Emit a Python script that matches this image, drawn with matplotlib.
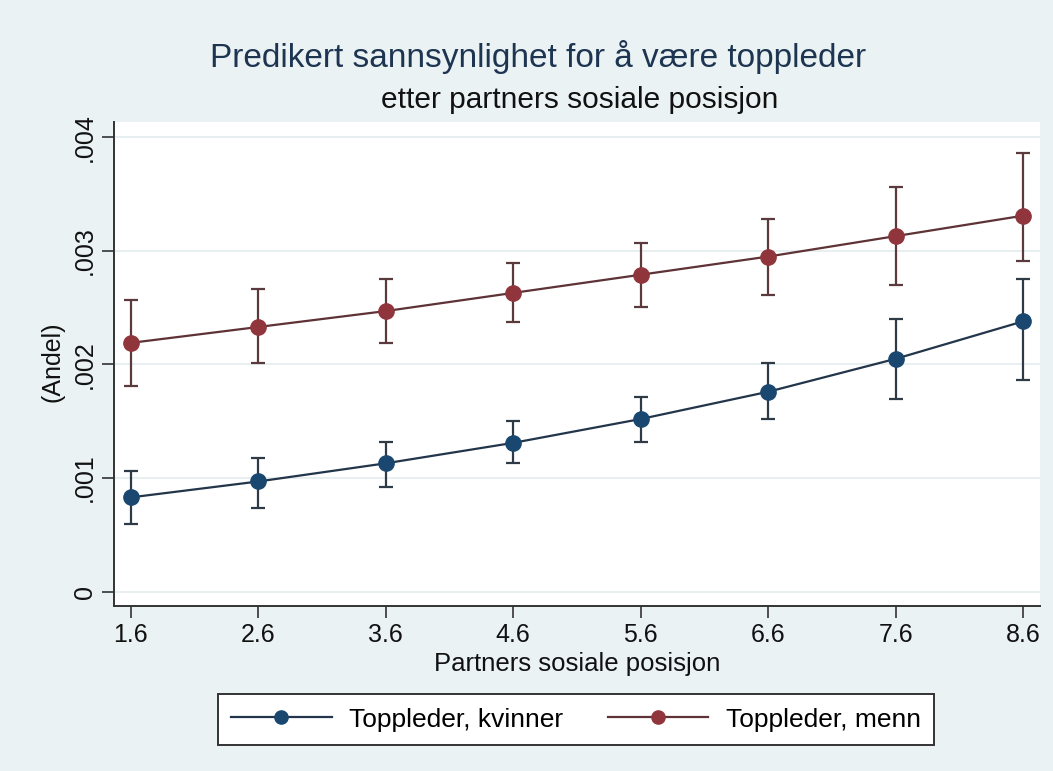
import matplotlib
matplotlib.use("Agg")
import matplotlib.pyplot as plt
from matplotlib.lines import Line2D

# ---- data ----
x_vals = [1.6, 2.6, 3.6, 4.6, 5.6, 6.6, 7.6, 8.6]
x_ticklabels = ["1.6", "2.6", "3.6", "4.6", "5.6", "6.6", "7.6", "8.6"]
women = [0.00083, 0.00097, 0.00113, 0.00131, 0.00152, 0.00176, 0.00205, 0.00238]
women_lo = [0.00060, 0.00074, 0.00092, 0.00113, 0.00132, 0.00152, 0.00170, 0.00186]
women_hi = [0.00106, 0.00118, 0.00132, 0.00150, 0.00171, 0.00201, 0.00240, 0.00275]
men = [0.00219, 0.00233, 0.00247, 0.00263, 0.00279, 0.00295, 0.00313, 0.00331]
men_lo = [0.00181, 0.00201, 0.00219, 0.00237, 0.00251, 0.00261, 0.00270, 0.00291]
men_hi = [0.00257, 0.00266, 0.00275, 0.00289, 0.00307, 0.00328, 0.00356, 0.00386]
y_ticks = [0, 0.001, 0.002, 0.003, 0.004]
y_ticklabels = ["0", ".001", ".002", ".003", ".004"]
series_labels = ["Toppleder, kvinner", "Toppleder, menn"]

title = "Predikert sannsynlighet for å være toppleder"
subtitle = "etter partners sosiale posisjon"
xlabel = "Partners sosiale posisjon"
ylabel = "(Andel)"

plt.rcParams["font.family"] = ["Liberation Sans", "DejaVu Sans"]

BG = "#EAF2F3"
NAVY = "#1A476F"
MAROON = "#90353B"
NAVY_LINE = "#22354A"
MAROON_LINE = "#5E3236"
NAVY_CI = "#2E3A46"
MAROON_CI = "#5A3A3D"

W, H = 1053, 771
fig = plt.figure(figsize=(W / 100, H / 100), dpi=100, facecolor=BG)
ax = fig.add_axes([114 / W, 1 - 606 / H, (1040 - 114) / W, (606 - 121.7) / H])
ax.set_facecolor("white")

ax.set_xlim(1.469, 8.731)
ax.set_ylim(-0.000126, 0.004137)

for y in y_ticks:
    ax.axhline(y, color="#E3ECEE", lw=1.2, zorder=0)

def plot_series(vals, lo, hi, mcol, lcol, ccol):
    yerr = [[v - l for v, l in zip(vals, lo)], [h - v for v, h in zip(vals, hi)]]
    ax.errorbar(x_vals, vals, yerr=yerr, fmt="none", ecolor=ccol, elinewidth=1.6,
                capsize=4.7, capthick=1.6, zorder=2)
    ax.plot(x_vals, vals, color=lcol, lw=1.6, zorder=3)
    ax.plot(x_vals, vals, ls="none", marker="o", ms=11, mfc=mcol, mec=mcol, zorder=4)

plot_series(women, women_lo, women_hi, NAVY, NAVY_LINE, NAVY_CI)
plot_series(men, men_lo, men_hi, MAROON, MAROON_LINE, MAROON_CI)

for s in ["top", "right"]:
    ax.spines[s].set_visible(False)
for s in ["left", "bottom"]:
    ax.spines[s].set_color("#333333")
    ax.spines[s].set_linewidth(1.4)

ax.set_xticks(x_vals)
ax.set_xticklabels(x_ticklabels)
ax.set_yticks(y_ticks)
ax.set_yticklabels(y_ticklabels, rotation=90, va="center")
ax.tick_params(axis="both", direction="out", length=8.5, width=1.2, color="#333333",
               labelsize=18, labelcolor="#111111")
ax.tick_params(axis="x", pad=4)
ax.tick_params(axis="y", pad=4)

fig.text(53 / W, 1 - 362 / H, ylabel, rotation=90, ha="center", va="center",
         fontsize=18, color="#111111")
fig.text(577 / W, 1 - 664 / H, xlabel, ha="center", va="center", fontsize=18.5, color="#111111")

fig.text(538 / W, 1 - 66.7 / H, title, ha="center", va="baseline", fontsize=24, color="#1E3552")
fig.text(580 / W, 1 - 108.3 / H, subtitle, ha="center", va="baseline", fontsize=21.5, color="#111111")

handles = [
    Line2D([], [], color=NAVY_LINE, lw=1.6, marker="o", ms=9.5, mfc=NAVY, mec=NAVY),
    Line2D([], [], color=MAROON_LINE, lw=1.6, marker="o", ms=9.5, mfc=MAROON, mec=MAROON),
]
leg = fig.legend(handles, series_labels, loc="center", bbox_to_anchor=(576 / W, 1 - 719.5 / H),
                 ncol=2, fontsize=19, frameon=True, fancybox=False, framealpha=1,
                 edgecolor="#333333", facecolor="white", handlelength=3.8,
                 handletextpad=0.67, columnspacing=1.68, borderpad=0.5)
leg.get_frame().set_linewidth(1.4)

fig.savefig("out.png", dpi=100, facecolor=BG)
